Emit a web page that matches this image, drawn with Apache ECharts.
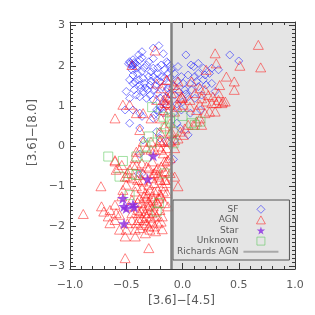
<!DOCTYPE html>
<html><head><meta charset="utf-8">
<script src="https://cdn.jsdelivr.net/npm/echarts@6/dist/echarts.min.js"></script>
<style>html,body{margin:0;padding:0;background:#fff}#c{width:315px;height:315px}</style>
</head><body><div id="c"></div>
<script>
// ---- data ----
const sfPoints = [
[-0.21,2.5],[-0.26,2.44],[-0.36,2.35],[-0.39,2.27],[-0.38,2.15],[-0.44,2.15],[-0.47,2.1],[-0.43,2.08],[-0.44,2.02],[-0.42,2.05],
[-0.45,1.9],[-0.41,1.94],[-0.36,1.86],[-0.32,2.02],[-0.26,1.94],[-0.19,2.02],[-0.14,2.1],[-0.16,1.9],[-0.22,1.81],[-0.26,1.73],
[-0.3,1.73],[-0.35,1.69],[-0.39,1.65],[-0.44,1.77],[-0.47,1.65],[-0.44,1.56],[-0.38,1.52],[-0.34,1.56],[-0.29,1.52],[-0.23,1.65],
[-0.19,1.73],[-0.13,1.81],[-0.12,1.56],[-0.18,1.48],[-0.25,1.4],[-0.31,1.4],[-0.37,1.44],[-0.43,1.4],[-0.5,1.36],[-0.38,1.23],
[-0.35,1.36],[-0.29,1.27],[-0.22,1.31],[-0.14,1.36],[-0.41,1.27],[-0.47,1.19],[-0.32,1.19],[-0.26,1.15],
[-0.17,2.3],[-0.3,2.1],[-0.26,2.18],[-0.36,2.2],[-0.48,2.05],[-0.46,2.06],[-0.45,2.0],[-0.4,1.8],[-0.42,1.6],[-0.28,1.62],
[-0.2,1.6],[-0.16,1.7],[-0.11,1.7],[-0.11,2.0],[-0.24,1.5],[-0.33,1.45],[-0.2,1.2],[-0.15,1.2],[-0.12,1.3],[-0.4,2.0],
[-0.34,1.95],[-0.22,1.95],[-0.28,1.85],
[0.03,2.27],[0.075,2.02],[0.1,1.98],[0.14,2.06],[0.185,1.94],[0.42,2.27],[0.5,2.12],[0.26,1.94],[0.32,1.9],[0.24,1.81],
[0.2,1.77],[0.14,1.81],[0.11,1.73],[0.05,1.77],[-0.01,1.73],[-0.07,1.81],[-0.1,1.9],[-0.04,1.98],[-0.13,2.06],[0.185,1.65],
[0.125,1.61],[0.066,1.56],[0.007,1.56],[-0.05,1.61],[0.02,1.4],[0.08,1.4],[0.14,1.48],[0.21,1.52],[0.17,1.27],[0.11,1.19],
[0.05,1.23],[-0.07,1.27],[0.26,1.56],[0.29,1.36],[-0.13,1.44],[-0.08,1.5],[-0.03,1.35],[0.0,1.1],[-0.05,1.05],[0.03,1.3],
[-0.51,0.9],[-0.44,0.9],[-0.38,0.82],[-0.47,0.57],[-0.38,0.45],[-0.36,0.74],[-0.26,0.69],[-0.23,0.9],[-0.2,0.98],[-0.16,1.07],
[-0.17,0.82],[-0.23,0.36],[-0.2,0.2],[-0.35,0.15],[-0.14,0.11],[-0.02,0.44],[0.05,0.28],[-0.01,0.9],[0.07,0.82],[0.16,0.9],
[-0.08,0.82],[-0.38,-0.2],[-0.08,-0.33],[-0.39,-0.69],[-0.36,-0.68],[-0.05,0.57],[-0.25,0.78],[-0.22,0.86],[-0.19,0.94],[-0.14,1.0],
[-0.07,0.15]
];
const agnPoints = [
[-0.882,-1.69],[-0.725,-1.0],[-0.72,-1.5],[-0.7,-1.63],[-0.66,-1.75],[-0.645,-1.92],[-0.6,-1.84],[-0.59,-1.67],[-0.51,-2.25],[-0.5,-2.08],
[-0.56,-2.08],[-0.49,-1.92],[-0.54,-1.25],[-0.53,-1.09],[-0.5,-0.96],[-0.45,-0.8],[-0.51,-0.76],[-0.49,-0.67],[-0.39,-0.72],[-0.36,-0.84],
[-0.41,-1.0],[-0.36,-1.05],[-0.33,-1.17],[-0.29,-1.09],[-0.25,-0.92],[-0.2,-0.84],[-0.17,-1.0],[-0.14,-1.17],[-0.19,-1.25],[-0.23,-1.38],
[-0.26,-1.5],[-0.3,-1.38],[-0.35,-1.55],[-0.39,-1.67],[-0.36,-1.79],[-0.32,-1.75],[-0.27,-1.67],[-0.23,-1.75],[-0.2,-1.59],[-0.16,-1.42],
[-0.13,-1.5],[-0.19,-1.88],[-0.18,-2.07],[-0.25,-2.0],[-0.29,-2.08],[-0.33,-2.17],[-0.38,-2.04],[-0.42,-2.08],[-0.41,-1.92],[-0.45,-1.84],
[-0.42,-2.25],[-0.3,-2.54],[-0.36,-1.42],[-0.32,-1.3],[-0.27,-1.25],[-0.25,-1.13],[-0.22,-1.09],[-0.42,-1.13],[-0.45,-1.34],[-0.47,-1.5],
[-0.6,-1.46],[-0.645,-1.59],[-0.56,-1.71],[-0.32,-1.92],[-0.27,-1.88],[-0.22,-1.92],[-0.38,-1.3],[-0.29,-1.59],[-0.3,-0.96],[-0.35,-0.88],
[-0.27,-0.8],[-0.22,-0.71],[-0.16,-0.84],[-0.16,-0.63],[-0.25,-0.67],[-0.4,-1.59],[-0.33,-1.67],[-0.25,-1.63],[-0.22,-1.42],[-0.18,-1.75],
[-0.35,-1.96],[-0.39,-1.84],[-0.29,-1.46],[-0.26,-1.34],[-0.2,-1.21],[-0.17,-1.13],[-0.14,-0.92],[-0.45,-1.67],[-0.11,-0.67],[-0.51,-2.79],
[-0.34,-1.25],[-0.31,-1.5],[-0.37,-1.62],[-0.28,-1.78],[-0.34,-1.85],[-0.3,-2.0],[-0.24,-2.12],[-0.4,-1.4],[-0.21,-1.3],[-0.31,-1.2],
[-0.6,-0.35],[-0.54,-0.47],[-0.59,-0.59],[-0.49,-0.76],[-0.47,-0.58],[-0.44,-0.47],[-0.36,-0.43],[-0.41,-0.14],[-0.32,-0.05],[-0.25,-0.09],
[-0.21,-0.01],[-0.17,-0.18],[-0.16,-0.38],[-0.19,-0.51],[-0.23,-0.59],[-0.3,-0.55],[-0.26,-0.68],[-0.21,-0.76],[-0.15,-0.84],[-0.14,-0.63],
[-0.13,-0.34],[-0.27,-0.38],[-0.35,-0.68],[-0.4,-0.84],[-0.17,0.11],[-0.11,0.11],[-0.2,0.15],
[-0.53,1.03],[-0.47,1.03],[-0.6,0.69],[-0.41,0.82],[-0.35,0.82],[-0.38,0.4],[-0.28,0.69],[-0.14,1.07],[-0.17,0.9],[-0.13,0.86],
[-0.19,0.69],[-0.16,0.49],[-0.2,0.36],[-0.11,0.32],[-0.2,0.11],[-0.28,0.11],[-0.35,0.11],[-0.13,0.11],[-0.14,-0.05],[-0.38,-0.09],
[-0.28,-0.09],[-0.19,-0.09],[-0.11,-0.3],[-0.6,-0.38],[-0.57,-0.55],[-0.42,-0.3],[-0.41,-0.47],[-0.32,-0.51],[-0.22,-0.55],[-0.14,-0.38],
[-0.156,1.07],[-0.11,1.03],[-0.05,0.98],[0.007,1.03],[0.066,0.98],[0.125,0.9],[0.155,1.03],[0.2,0.82],[0.24,0.86],[0.29,0.86],
[0.3,1.07],[0.35,1.07],[0.38,1.11],[0.26,1.07],[0.21,1.11],[0.32,1.15],[0.125,0.61],[0.155,0.69],[0.17,0.53],[0.096,0.53],
[0.05,0.53],[0.02,0.44],[-0.02,0.36],[0.007,0.28],[-0.04,0.19],[-0.07,0.15],[-0.07,-0.05],[-0.1,0.36],[-0.11,0.57],[-0.07,0.86],
[-0.07,-0.76],[-0.04,-1.0],
[0.29,2.31],[0.3,2.06],[0.21,1.9],[0.39,1.73],[0.46,1.61],[0.46,1.4],[0.33,1.52],[0.32,1.32],[0.36,1.11],[0.27,1.23],
[0.23,1.27],[0.155,1.44],[0.11,1.32],[0.17,1.19],[0.066,1.15],[-0.008,1.23],[-0.02,1.19],[0.0,1.2],[-0.05,1.44],[-0.08,1.52],
[-0.04,1.61],[-0.1,1.32],[-0.14,1.23],[-0.14,1.65],[0.08,1.61],[0.2,1.4],
[0.674,2.52],[0.695,1.96],[0.51,2.0],
[-0.244,2.38],[-0.45,2.02],[-0.23,1.56],[-0.19,1.44],[-0.14,1.65],[-0.13,1.19],[-0.23,1.15],[-0.17,1.15]
];
const starPoints = [
[-0.26,-0.24],[-0.31,-0.82],[-0.53,-1.3],[-0.5,-1.55],[-0.52,-1.5],[-0.43,-1.52],[-0.44,-1.45],[-0.52,-1.93]
];
const unknownPoints = [
[-0.27,0.97],[-0.17,0.73],[-0.11,0.69],[-0.15,0.44],[0.0,0.75],[0.08,0.57],[0.16,0.61],[0.11,0.53],[-0.08,0.07],[-0.27,0.09],
[-0.3,0.24],[-0.33,-0.01],[-0.41,-0.26],[-0.32,-0.26],[-0.66,-0.26],[-0.53,-0.37],[-0.56,-0.76],[-0.45,-0.69],[-0.41,-0.72],[-0.16,-0.68],
[-0.21,-1.42],[-0.23,-1.63],[-0.47,-1.22],[-0.19,0.32],[-0.11,0.61],[-0.08,0.36]
];
const richardsX = [-0.1];
const xTicks = [-1.0,-0.5,0.0,0.5,1.0];
const yTicks = [-3,-2,-1,0,1,2,3];
const yMinorTicks = [];
for (let i = -30; i <= 30; i++) yMinorTicks.push(i / 10);

// ---- chart ----
const TXT = '#5a5a5a', FRAME = '#3a3a3a', FONT = 'DejaVu Sans';
const fmtMinus = s => String(s).replace('-', '\u2212');
const starPath = 'path://M50,0 L61,35 L98,35 L68,57 L79,91 L50,70 L21,91 L32,57 L2,35 L39,35 Z';
const diamondPath = 'path://M5,0 L10,5 L5,10 L0,5 Z';
const trianglePath = 'path://M5,0 L10,9 L0,9 Z';
const squarePath = 'path://M0,0 L10,0 L10,10 L0,10 Z';
const YMIN = -3.06, YMAX = 3.09;

function xAx(pos, showLabel) {
  return {
    type: 'value', position: pos, min: xTicks[0], max: xTicks[xTicks.length - 1], interval: 0.5, z: 3,
    axisLine: { show: true, onZero: false, lineStyle: { color: FRAME, width: 1 } },
    axisTick: { show: true, inside: true, length: 6, lineStyle: { color: FRAME } },
    minorTick: { show: true, splitNumber: 5, length: 3, lineStyle: { color: FRAME } },
    splitLine: { show: false },
    axisLabel: { show: showLabel, margin: 11, fontFamily: FONT, fontSize: 11, color: TXT,
      formatter: v => fmtMinus(v.toFixed(1)) }
  };
}
function yAx(pos, major, showLabel) {
  return {
    type: 'value', position: pos, min: YMIN, max: YMAX, z: 3,
    axisLine: { show: major, onZero: false, lineStyle: { color: FRAME, width: 1 } },
    axisTick: { show: true, inside: true, length: major ? 6 : 3, customValues: major ? yTicks : yMinorTicks,
      lineStyle: { color: FRAME } },
    splitLine: { show: false },
    axisLabel: { show: showLabel, customValues: yTicks, margin: 5, fontFamily: FONT, fontSize: 11, color: TXT,
      formatter: v => fmtMinus(Math.round(v)) }
  };
}

const chart = echarts.init(document.getElementById('c'), null, { renderer: 'canvas' });
chart.setOption({
  animation: false,
  backgroundColor: '#fff',
  grid: { left: 70, right: 20, top: 22, bottom: 46 },
  xAxis: [xAx('bottom', true), xAx('top', false)],
  yAxis: [yAx('left', true, true), yAx('left', false, false), yAx('right', true, false), yAx('right', false, false)],
  legend: {
    orient: 'vertical', align: 'right', left: 173, top: 200,
    padding: [4, 10, 3, 4], itemWidth: 35, itemHeight: 8, itemGap: 0, symbolKeepAspect: true,
    itemStyle: { borderWidth: 1 },
    backgroundColor: '#e5e5e5', borderColor: '#555', borderWidth: 1, borderRadius: 0,
    textStyle: { fontFamily: FONT, fontSize: 9, color: TXT, lineHeight: 10.6 },
    data: ['SF', 'AGN', 'Star', 'Unknown', 'Richards AGN'], selectedMode: false
  },
  graphic: [
    { type: 'text', left: 148, top: 295, style: { text: '[3.6]\u2212[4.5]', font: '12px "DejaVu Sans"', fill: TXT } },
    { type: 'text', rotation: Math.PI / 2, x: 27, y: 166, style: { text: '[3.6]\u2212[8.0]', font: '12px "DejaVu Sans"', fill: TXT,
      textAlign: 'left', textVerticalAlign: 'top' } }
  ],
  series: [
    { name: 'Richards AGN', type: 'line', data: [], z: 1, showSymbol: false, symbol: 'none',
      lineStyle: { color: '#a8a8a8', width: 2 }, itemStyle: { color: 'rgba(0,0,0,0)', borderColor: 'rgba(0,0,0,0)', borderWidth: 0 },
      markArea: { silent: true, z: 1, itemStyle: { color: '#e5e5e5' }, data: [[{ xAxis: richardsX[0] }, { xAxis: xTicks[xTicks.length - 1] }]] },
      markLine: { silent: true, symbol: 'none', label: { show: false }, z: 5,
        lineStyle: { color: '#808080', width: 2.5, type: 'solid' }, data: [{ xAxis: richardsX[0] }] } },
    { name: 'SF', type: 'scatter', data: sfPoints, symbol: diamondPath, symbolSize: 8, symbolKeepAspect: true, z: 2,
      itemStyle: { color: 'rgba(0,0,0,0)', borderColor: 'rgba(30,30,255,0.7)', borderWidth: 1 } },
    { name: 'AGN', type: 'scatter', data: agnPoints, symbol: trianglePath, symbolSize: 10, symbolKeepAspect: true, z: 2,
      itemStyle: { color: 'rgba(0,0,0,0)', borderColor: 'rgba(255,20,20,0.65)', borderWidth: 1 } },
    { name: 'Unknown', type: 'scatter', data: unknownPoints, symbol: squarePath, symbolSize: 9, symbolKeepAspect: true, z: 2,
      itemStyle: { color: 'rgba(0,0,0,0)', borderColor: 'rgba(90,200,90,0.7)', borderWidth: 1 } },
    { name: 'Star', type: 'scatter', data: starPoints, symbol: starPath, symbolSize: 12, symbolKeepAspect: true, z: 2,
      itemStyle: { color: '#8a2be2', borderWidth: 0 } }
  ]
});
</script></body></html>
